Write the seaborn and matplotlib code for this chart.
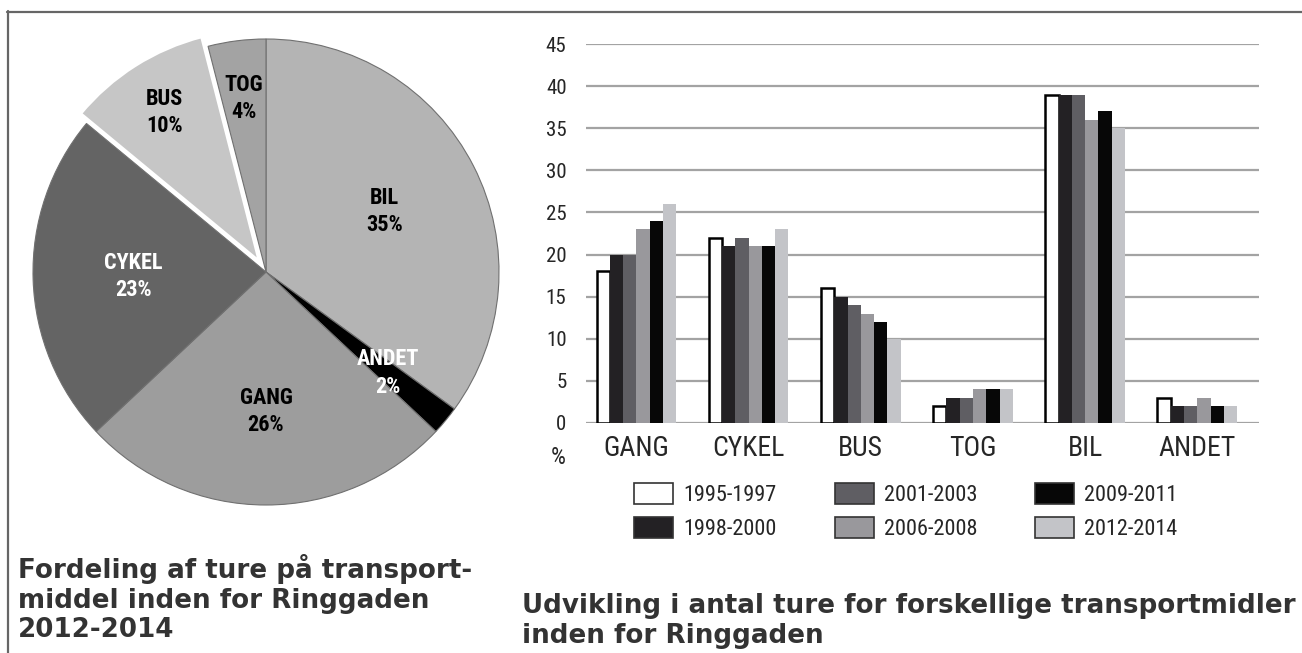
import matplotlib
matplotlib.use("Agg")
import matplotlib.pyplot as plt
from matplotlib import font_manager as fm
from matplotlib.patches import Patch
from matplotlib.lines import Line2D
import numpy as np
import pandas as pd
import seaborn as sns

# ---------------- data ----------------
pie_labels = ["BIL", "ANDET", "GANG", "CYKEL", "BUS", "TOG"]
pie_values = [35, 2, 26, 23, 10, 4]
pie_colors = ["#b4b4b4", "#000000", "#9d9d9d", "#646464", "#c6c6c6", "#a3a3a3"]
pie_text_colors = ["black", "white", "black", "white", "black", "black"]

modes = ["GANG", "CYKEL", "BUS", "TOG", "BIL", "ANDET"]
periods = ["1995-1997", "1998-2000", "2001-2003", "2006-2008", "2009-2011", "2012-2014"]
v_1995_1997 = [18, 22, 16, 2, 39, 3]
v_1998_2000 = [20, 21, 15, 3, 39, 2]
v_2001_2003 = [20, 22, 14, 3, 39, 2]
v_2006_2008 = [23, 21, 13, 4, 36, 3]
v_2009_2011 = [24, 21, 12, 4, 37, 2]
v_2012_2014 = [26, 23, 10, 4, 35, 2]
bar_colors = ["#ffffff", "#232124", "#5f5e63", "#99989c", "#070707", "#c3c4c8"]
yticks = [0, 5, 10, 15, 20, 25, 30, 35, 40, 45]

title_left = "Fordeling af ture på transport-\nmiddel inden for Ringgaden\n2012-2014"
title_right = "Udvikling i antal ture for forskellige transportmidler\ninden for Ringgaden"

# ---------------- style ----------------
sns.set_style("white")
plt.rcParams["font.family"] = ["DejaVu Sans"]

def base(f):
    return f.fname.replace("\\", "/").split("/")[-1]

def find_font(patterns):
    for pat in patterns:
        for f in fm.fontManager.ttflist:
            if pat.lower() in base(f).lower():
                return fm.FontProperties(fname=f.fname)
    return None

fp_reg = find_font(["RobotoCondensed-Regular", "LiberationSansNarrow-Regular",
                    "DejaVuSansCondensed.ttf"])
fp_bold = find_font(["RobotoCondensed-Bold.", "LiberationSansNarrow-Bold.",
                     "DejaVuSansCondensed-Bold.ttf"])
if fp_reg is None:
    fp_reg = fm.FontProperties(family="DejaVu Sans", stretch="condensed")
if fp_bold is None:
    fp_bold = fm.FontProperties(family="DejaVu Sans", stretch="condensed", weight="bold")

def fpsize(fp, size):
    p = fp.copy()
    p.set_size(size)
    return p

W, H = 1302, 653
fig = plt.figure(figsize=(W / 100, H / 100), dpi=100)

def fx(px):
    return px / W

def fy(py):
    return 1 - py / H

# frame lines
fig.add_artist(Line2D([fx(7), 1.0], [fy(11.5), fy(11.5)], color="#666666", lw=1.6))
fig.add_artist(Line2D([fx(7.5), fx(7.5)], [fy(11), 0.0], color="#666666", lw=1.6))

# ---------------- pie ----------------
cx, cy, r = 266, 272, 233
ax_pie = fig.add_axes([fx(cx - r), fy(cy + r), 2 * r / W, 2 * r / H])
explode = [0.05 if l == "BUS" else 0 for l in pie_labels]
wedges, _ = ax_pie.pie(pie_values, colors=pie_colors, startangle=90, counterclock=False,
                       explode=explode, radius=1,
                       wedgeprops=dict(edgecolor="#707070", linewidth=0.8))
for w, l in zip(wedges, pie_labels):
    if l == "BUS":
        w.set_edgecolor("white")
        w.set_linewidth(2.5)
        w.set_zorder(3)
ax_pie.set_xlim(-1, 1)
ax_pie.set_ylim(-1, 1)
ax_pie.set_aspect("equal")
ax_pie.axis("off")
ax_pie.patch.set_visible(False)
for a in ax_pie.patches:
    a.set_clip_on(False)

label_r = {"BIL": 0.57, "ANDET": 0.68, "GANG": 0.6, "CYKEL": 0.57, "BUS": 0.76, "TOG": 0.75}
for w, l, v, tc in zip(wedges, pie_labels, pie_values, pie_text_colors):
    ang = np.deg2rad((w.theta1 + w.theta2) / 2)
    rr = label_r[l]
    x = w.center[0] + rr * np.cos(ang)
    y = w.center[1] + rr * np.sin(ang)
    ax_pie.text(x, y, f"{l}\n{v}%", ha="center", va="center", color=tc,
                fontproperties=fpsize(fp_bold, 16), linespacing=1.3, zorder=5)

# ---------------- bars ----------------
ax = fig.add_axes([fx(586), fy(423), (1259 - 586) / W, (423 - 44) / H])
rows = []
for p, vals in zip(periods, [v_1995_1997, v_1998_2000, v_2001_2003,
                             v_2006_2008, v_2009_2011, v_2012_2014]):
    for m, v in zip(modes, vals):
        rows.append({"mode": m, "period": p, "value": v})
df = pd.DataFrame(rows)
sns.barplot(data=df, x="mode", y="value", hue="period", order=modes, hue_order=periods,
            palette=bar_colors, width=0.71, saturation=1, linewidth=0, ax=ax,
            legend=False, errorbar=None)
for bar in ax.containers[0]:
    bar.set_edgecolor("black")
    bar.set_linewidth(1.8)
ax.set_xlim(-0.45, 5.55)
ax.set_ylim(0, 45)
ax.set_yticks(yticks)
ax.set_axisbelow(True)
ax.yaxis.grid(True, color="#a3a3a3", linewidth=1.6)
ax.xaxis.grid(False)
for s in ax.spines.values():
    s.set_visible(False)
ax.set_xlabel("")
ax.set_ylabel("")
ax.tick_params(axis="y", length=0, pad=14)
ax.tick_params(axis="x", length=0, pad=9)
for t in ax.get_yticklabels():
    t.set_fontproperties(fpsize(fp_reg, 15))
for t in ax.get_xticklabels():
    t.set_fontproperties(fpsize(fp_reg, 20))
fig.text(fx(558), fy(458), "%", ha="center", va="center", fontproperties=fpsize(fp_reg, 17))

# legend: three columns
leg_fs = 16
leg_px = leg_fs * 100 / 72
col_x = [634, 835, 1035]
for ci in range(3):
    hs = [Patch(facecolor=bar_colors[2 * ci + k], edgecolor="#333333", linewidth=1.2)
          for k in range(2)]
    labs = periods[2 * ci: 2 * ci + 2]
    fig.legend(hs, labs, loc="center left", bbox_to_anchor=(fx(col_x[ci]), fy(511.5)),
               frameon=False, prop=fpsize(fp_reg, leg_fs), handlelength=39 / leg_px,
               handleheight=24 / leg_px, handletextpad=10 / leg_px,
               labelspacing=11 / leg_px, borderpad=0, borderaxespad=0)

# ---------------- titles ----------------
fig.text(fx(18), fy(554), title_left, ha="left", va="top", fontsize=18.8, fontweight="bold",
         color="#333333", linespacing=1.18)
fig.text(fx(522), fy(593), title_right, ha="left", va="top", fontsize=18.8, fontweight="bold",
         color="#333333", linespacing=1.18)

fig.savefig("out.png", dpi=100)
